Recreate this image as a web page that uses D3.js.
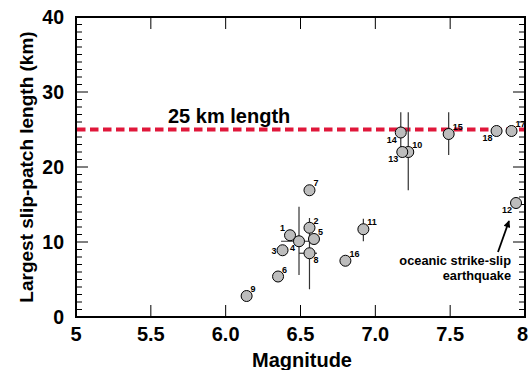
<!DOCTYPE html>
<html>
<head>
<meta charset="utf-8">
<script src="https://cdn.jsdelivr.net/npm/d3@7"></script>
<style>
body { margin:0; background:#fff; }
text { font-family: "Liberation Sans", Arial, Helvetica, sans-serif; font-weight:bold; }
</style>
</head>
<body>
<div id="vis"></div>
<script>
// earthquake ids, magnitude, largest slip-patch length (km)
var ids  = [1, 2, 3, 4, 5, 6, 7, 8, 9, 10, 11, 12, 13, 14, 15, 16, 17, 18]
var mags = [6.43, 6.56, 6.38, 6.49, 6.59, 6.35, 6.56, 6.56, 6.14, 7.22, 6.92, 7.94, 7.18, 7.17, 7.49, 6.80, 7.91, 7.81]
var lens = [10.9, 11.9, 8.9, 10.1, 10.4, 5.4, 16.9, 8.5, 2.8, 22.0, 11.7, 15.2, 22.0, 24.6, 24.4, 7.5, 24.8, 24.8]
// label side: r = upper right, l = left, ul = upper left, ll = lower left, lr = lower right
var labelPos = ["ul","r","l","ll","r","r","r","lr","r","r","r","ll","ll","ll","r","r","r","ll"]

// error bars [id, lo, hi]
var lenErr = [[4, 5.6, 14.7], [8, 3.7, 13.2], [10, 16.9, 27.3], [11, 10.1, 13.1], [14, 22.0, 27.3], [15, 21.6, 27.3]]
var magErr = [[4, 6.37, 6.60], [8, 6.49, 6.61]]

var xTicks = [5, 5.5, 6, 6.5, 7, 7.5, 8]
var xTickLabels = ["5", "5.5", "6.0", "6.5", "7.0", "7.5", "8"]
var yTicks = [0, 10, 20, 30, 40]
var refLength = 25

var width = 529, height = 370
var m = {left:76, right:4, top:17, bottom:53}

var svg = d3.select("#vis").append("svg")
    .attr("width", width).attr("height", height)

var x = d3.scaleLinear().domain([5, 8]).range([m.left, width - m.right])
var y = d3.scaleLinear().domain([0, 40]).range([height - m.bottom, m.top])

//ticks
var minorY = d3.range(0, 41, 1)
var frame = svg.append("g").attr("stroke", "#000").attr("stroke-width", 1)
minorY.forEach(function(v){
    var len = (v % 10 == 0) ? 12 : 6
    frame.append("line").attr("x1", x(5)).attr("x2", x(5) + len).attr("y1", y(v)).attr("y2", y(v))
    frame.append("line").attr("x1", x(8)).attr("x2", x(8) - len).attr("y1", y(v)).attr("y2", y(v))
})
xTicks.forEach(function(v){
    frame.append("line").attr("x1", x(v)).attr("x2", x(v)).attr("y1", y(0)).attr("y2", y(0) - 12)
    frame.append("line").attr("x1", x(v)).attr("x2", x(v)).attr("y1", y(40)).attr("y2", y(40) + 12)
})

//box
svg.append("rect")
    .attr("x", x(5)).attr("y", y(40))
    .attr("width", x(8) - x(5)).attr("height", y(0) - y(40))
    .attr("fill", "none").attr("stroke", "#000").attr("stroke-width", 2)

//tick labels
svg.selectAll(".ylab").data(yTicks).enter().append("text")
    .attr("class", "ylab")
    .attr("x", x(5) - 12).attr("y", function(d){ return y(d) + 7 })
    .attr("text-anchor", "end").attr("font-size", 19.5)
    .text(function(d){ return d })
// last label would run off the page, so pin it to the edge
svg.selectAll(".xlab").data(xTicks).enter().append("text")
    .attr("class", "xlab")
    .attr("x", function(d, i){ return i == xTicks.length - 1 ? width - 1 : x(d) })
    .attr("y", y(0) + 24)
    .attr("text-anchor", function(d, i){ return i == xTicks.length - 1 ? "end" : "middle" })
    .attr("font-size", 20)
    .text(function(d, i){ return xTickLabels[i] })

//axis titles
svg.append("text").attr("x", 302).attr("y", 367)
    .attr("text-anchor", "middle").attr("font-size", 20)
    .text("Magnitude")
svg.append("text")
    .attr("transform", "translate(33," + ((y(0) + y(40)) / 2) + ") rotate(-90)")
    .attr("text-anchor", "middle").attr("font-size", 19)
    .text("Largest slip-patch length (km)")

//25 km line
svg.append("line")
    .attr("x1", x(5) + 1).attr("x2", x(8) - 1)
    .attr("y1", y(refLength)).attr("y2", y(refLength))
    .attr("stroke", "#e0173a").attr("stroke-width", 4)
    .attr("stroke-dasharray", "8.5,4.5")
svg.append("text").attr("x", 168).attr("y", 123)
    .attr("font-size", 20).text("25 km length")

//error bars
var idx = function(id){ return ids.indexOf(id) }
var errs = svg.append("g").attr("stroke", "#333").attr("stroke-width", 1.2)
lenErr.forEach(function(e){
    var i = idx(e[0])
    errs.append("line").attr("x1", x(mags[i])).attr("x2", x(mags[i]))
        .attr("y1", y(e[1])).attr("y2", y(e[2]))
})
magErr.forEach(function(e){
    var i = idx(e[0])
    errs.append("line").attr("x1", x(e[1])).attr("x2", x(e[2]))
        .attr("y1", y(lens[i])).attr("y2", y(lens[i]))
})

//points
var pts = ids.map(function(d, i){ return {id:d, mag:mags[i], len:lens[i], pos:labelPos[i]} })
svg.selectAll("circle").data(pts).enter().append("circle")
    .attr("cx", function(d){ return x(d.mag) })
    .attr("cy", function(d){ return y(d.len) })
    .attr("r", 5.5)
    .attr("fill", "#bdbdbd").attr("stroke", "#000").attr("stroke-width", 1)

var off = {r:[4,-4,"start"], l:[-6,4,"end"], ul:[-5,-4,"end"], ll:[-4,10,"end"], lr:[4,10,"start"]}
svg.selectAll(".plab").data(pts).enter().append("text")
    .attr("class", "plab")
    .attr("x", function(d){ return x(d.mag) + off[d.pos][0] })
    .attr("y", function(d){ return y(d.len) + off[d.pos][1] })
    .attr("text-anchor", function(d){ return off[d.pos][2] })
    .attr("font-size", 9)
    .text(function(d){ return d.id })

//annotation
svg.append("defs").append("marker")
    .attr("id", "arrow").attr("viewBox", "0 0 10 10")
    .attr("refX", 9).attr("refY", 5)
    .attr("markerWidth", 9).attr("markerHeight", 7)
    .attr("markerUnits", "userSpaceOnUse")
    .attr("orient", "auto")
  .append("path").attr("d", "M0,0L10,5L0,10z").attr("fill", "#000")
svg.append("line")
    .attr("x1", 498).attr("y1", 252).attr("x2", 509).attr("y2", 221)
    .attr("stroke", "#000").attr("stroke-width", 1.8)
    .attr("marker-end", "url(#arrow)")
svg.append("text").attr("x", 511).attr("y", 265)
    .attr("text-anchor", "end").attr("font-size", 12.8)
    .text("oceanic strike-slip")
svg.append("text").attr("x", 511).attr("y", 280)
    .attr("text-anchor", "end").attr("font-size", 12.8)
    .text("earthquake")
</script>
</body>
</html>
